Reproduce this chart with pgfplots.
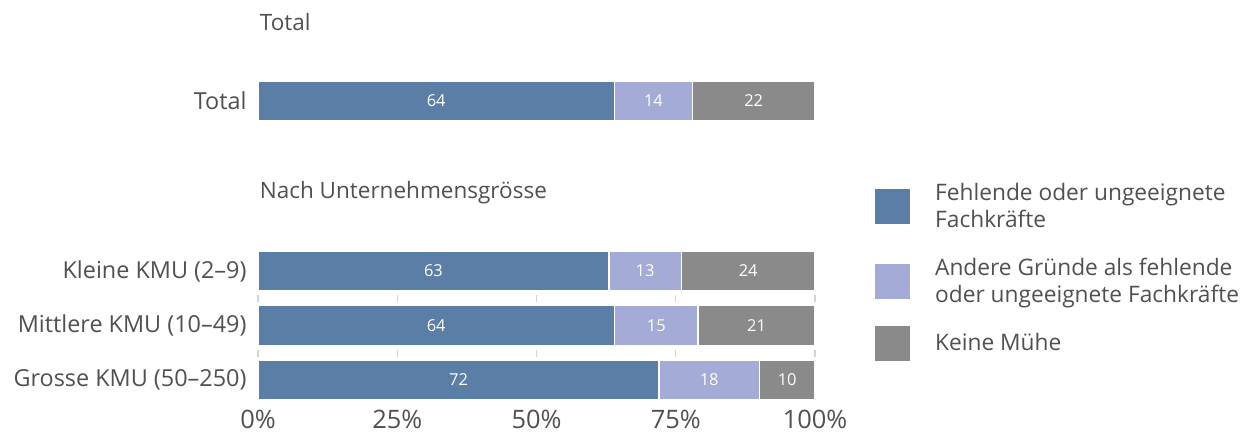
\documentclass[border=0pt]{standalone}
\usepackage{pgfplots}
\pgfplotsset{compat=1.18}
\usepackage{fontspec}
\setmainfont{Open Sans}
\definecolor{cblue}{HTML}{5A7EA6}
\definecolor{clav}{HTML}{A3ABD6}
\definecolor{cgray}{HTML}{8A8A8A}
\definecolor{ctext}{HTML}{505050}
\definecolor{ctick}{HTML}{D4D4D4}
\pgfplotsset{mybase/.style={
  x=5.57bp, y=54.5bp, y dir=reverse,
  xmin=0, xmax=100, ymin=-1.8532, ymax=5.578,
  at={(258bp,0bp)}, anchor=north west,
  clip=false,
  axis line style={draw=none},
  tick style={draw=none},
  major tick length=0pt,
}}
\begin{document}
\begin{tikzpicture}
\path[use as bounding box] (0,0) rectangle (1244bp,-434bp);
\begin{axis}[mybase,
  xbar stacked, bar width=0.73,
  ytick={0,3.12,4.12,5.12},
  yticklabels={Total, Kleine KMU (2--9), Mittlere KMU (10--49), Grosse KMU (50--250)},
  xtick={0,25,50,75,100},
  xticklabel={\pgfmathprintnumber{\tick}\%},
  /pgf/number format/assume math mode=true,
  xticklabel style={font=\fontsize{25.5}{30}\selectfont, text=ctext, inner sep=0pt, yshift=-5bp},
  yticklabel style={font=\fontsize{23.5}{28}\selectfont, text=ctext, xshift=-8bp},
  legend style={at={(axis description cs:1.108,0.60)}, anchor=north west,
    draw=none, fill=none, inner sep=0pt, outer sep=0pt,
    column sep=25bp, row sep=0pt,
    nodes={inner sep=0pt, text=ctext, font=\fontsize{22.8}{27}\selectfont, align=left}},
  legend cell align=left,
  legend image code/.code={\fill[#1, draw=none] (0bp,-17.5bp) rectangle (35bp,17.5bp);},
]
\addplot[fill=cblue, draw=white, line width=1.3bp] coordinates {(64,0) (63,3.12) (64,4.12) (72,5.12)};
\addlegendentry[minimum height=88bp]{Fehlende oder ungeeignete\\Fachkräfte}
\addplot[fill=clav, draw=white, line width=1.3bp] coordinates {(14,0) (13,3.12) (15,4.12) (18,5.12)};
\addlegendentry[minimum height=62bp]{Andere Gründe als fehlende\\oder ungeeignete Fachkräfte}
\addplot[fill=cgray, draw=white, line width=1.3bp] coordinates {(22,0) (24,3.12) (21,4.12) (10,5.12)};
\addlegendentry[minimum height=62bp]{Keine Mühe}
\end{axis}
\begin{axis}[mybase, hide axis]
\addplot[draw=none, nodes near coords, point meta=explicit symbolic,
  nodes near coords style={anchor=center, text=white, font=\fontsize{16.5}{16.5}\selectfont}]
  table[meta=lab] {
x y lab
32 0 64
71 0 14
89 0 22
31.5 3.12 63
69.5 3.12 13
88 3.12 24
32 4.12 64
71.5 4.12 15
89.5 4.12 21
36 5.12 72
81 5.12 18
95 5.12 10
};
\pgfplotsinvokeforeach{0,25,50,75,100}{
  \addplot[ctick, line width=1.2bp, forget plot] coordinates {(#1,3.56) (#1,3.69)};
  \addplot[ctick, line width=1.2bp, forget plot] coordinates {(#1,4.56) (#1,4.69)};
}
\node[anchor=west, inner sep=0pt, text=ctext, font=\fontsize{22.6}{27}\selectfont] at (axis cs:0.3,-1.45) {Total};
\node[anchor=west, inner sep=0pt, text=ctext, font=\fontsize{22.6}{27}\selectfont] at (axis cs:0.3,1.69) {Nach Unternehmensgrösse};
\end{axis}
\end{tikzpicture}
\end{document}
